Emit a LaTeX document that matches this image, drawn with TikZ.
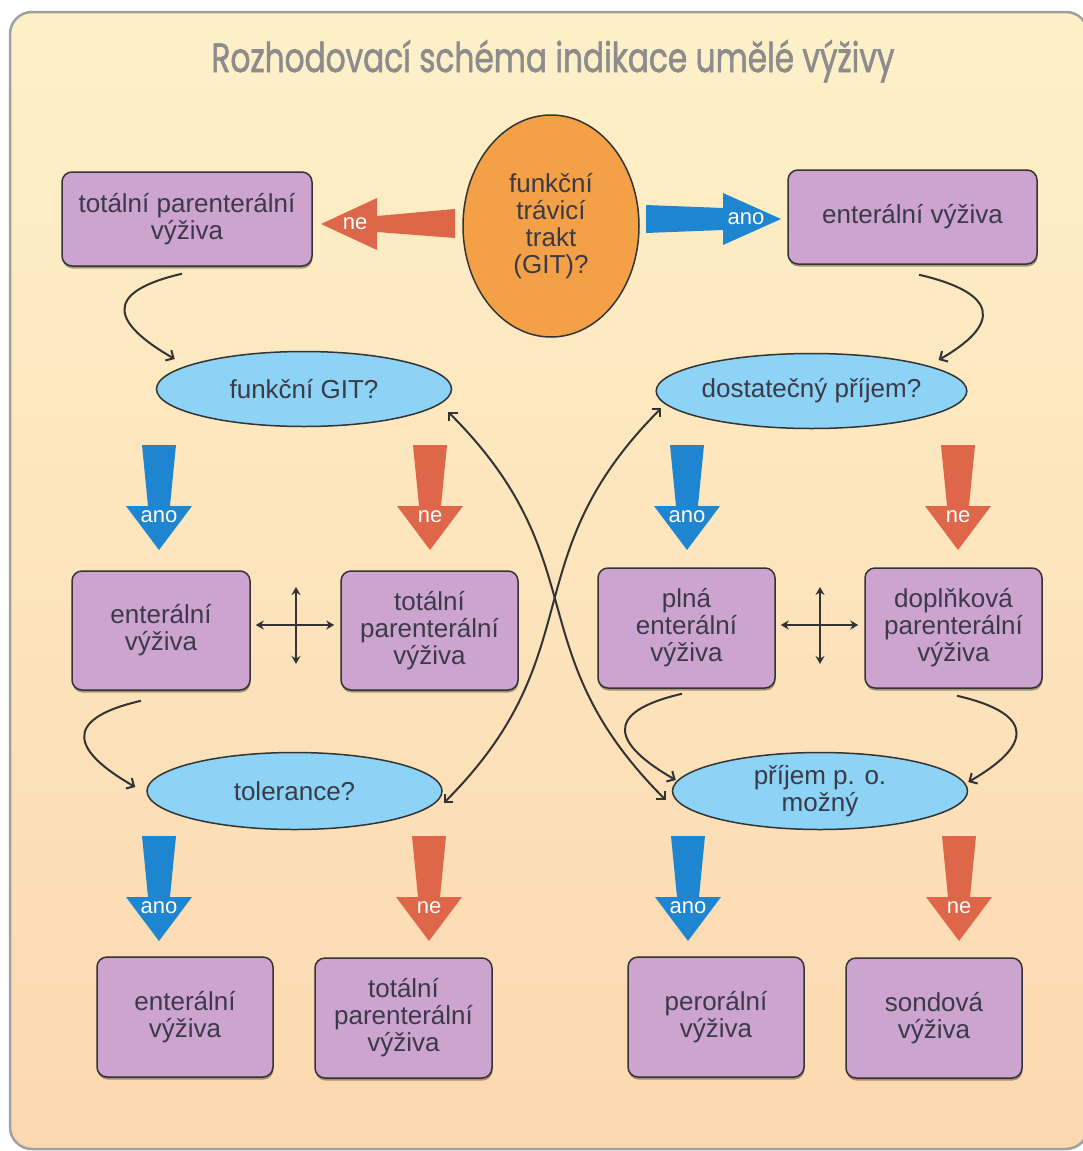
\documentclass[tikz,border=0pt]{standalone}
\usepackage{fontspec}
\setmainfont{Liberation Sans}
\newfontfamily\titlefont[FakeBold=1.6]{Poppins}
\usepackage{graphicx}
\usetikzlibrary{shapes.geometric,arrows.meta,shadows}
\definecolor{bgtop}{HTML}{FDF0C8}
\definecolor{bgbot}{HTML}{FCD8B0}
\definecolor{boxfill}{HTML}{CDA4CF}
\definecolor{qfill}{HTML}{8DD3F6}
\definecolor{orangefill}{HTML}{F3A046}
\definecolor{arrblue}{HTML}{1E86D0}
\definecolor{arrred}{HTML}{DE6649}
\definecolor{txt}{HTML}{3A3A48}
\definecolor{titlegray}{HTML}{8C8C8C}
\definecolor{edge}{HTML}{333333}
\definecolor{frame}{HTML}{A0A0A0}
\newcommand\bxfont{\fontsize{26}{27}\selectfont}
\newcommand\fatdown[5]{%
  \fill[#4] ({#2-17},{-#3}) -- ({#2+17},{-#3}) -- ({#2+11},{-(#3+61)}) -- ({#2+33},{-(#3+61)})
    -- ({#2},{-(#3+105)}) -- ({#2-33},{-(#3+61)}) -- ({#2-11},{-(#3+61)}) -- cycle;
  \node[lbl] (#1) at (#2,{-(#3+72)}) {#5};
}
\tikzset{
  box/.style={draw=edge, line width=1.5pt, fill=boxfill, rounded corners=10pt,
    align=center, text=txt, font=\bxfont, inner sep=0pt,
    drop shadow={shadow xshift=0.5pt, shadow yshift=-2.5pt, fill=black, opacity=0.35}},
  quest/.style={ellipse, draw=edge, line width=1.5pt, fill=qfill, minimum width=295pt,
    minimum height=75pt, inner sep=0pt, align=center, text=txt, font=\bxfont},
  lbl/.style={text=white, font=\fontsize{22}{22}\selectfont, inner sep=0pt},
  conn/.style={-{Straight Barb[length=6pt,width=12pt]}, line width=2pt, draw=edge},
  conn2/.style={{Straight Barb[length=6pt,width=12pt]}-{Straight Barb[length=6pt,width=12pt]}, line width=2pt, draw=edge},
  dbl/.style={{Stealth[length=8pt,width=9pt]}-{Stealth[length=8pt,width=9pt]}, line width=2pt, draw=edge},
}
\begin{document}
\begin{tikzpicture}[x=1pt,y=1pt]
\useasboundingbox (0,0) rectangle (1083,-1151);
\clip (0,0) rectangle (1083,-1151);
\draw[draw=frame, line width=2.5pt, rounded corners=22pt, top color=bgtop, bottom color=bgbot]
  (10,-12) rectangle (1088,-1149);

\node[anchor=base, text=titlegray, inner sep=0pt] (title) at (553,-72)
  {\resizebox{683pt}{\height}{\titlefont\fontsize{41}{41}\selectfont Rozhodovací schéma indikace umělé výživy}};

% top
\node[ellipse, draw=edge, line width=1.5pt, fill=orangefill, minimum width=176pt, minimum height=222pt,
  inner sep=0pt, align=center, text=txt, font=\bxfont] (git) at (551,-226) {funkční\\trávicí\\trakt\\(GIT)?};
\node[box, minimum width=250pt, minimum height=94pt] (tpv1) at (187,-219) {totální parenterální\\výživa};
\node[box, minimum width=249pt, minimum height=94pt] (ev1) at (912.5,-217) {enterální výživa};

\fill[arrred] (455,-209) -- (377,-216) -- (377,-198) -- (321,-224) -- (377,-250) -- (377,-232) -- (455,-238) -- cycle;
\node[lbl] (lne) at (355,-224) {ne};
\fill[arrblue] (646,-205) -- (723,-208) -- (723,-193) -- (781,-219) -- (723,-245) -- (723,-230) -- (646,-233) -- cycle;
\node[lbl] (lano) at (746,-219) {ano};

% questions
\node[quest] (q1) at (304,-389) {funkční GIT?};
\node[quest] (q2) at (811.5,-391) {dostatečný příjem?};
\node[quest, minimum height=77pt] (q3) at (294.5,-791) {tolerance?};
\node[quest, minimum height=77pt] (q4) at (820,-791) {příjem p. o.\\možný};

% middle boxes
\node[box, minimum width=178pt, minimum height=119pt] (ev2) at (161,-630.5) {enterální\\výživa};
\node[box, minimum width=177pt, minimum height=119pt] (tpv2) at (429.5,-630.5) {totální\\parenterální\\výživa};
\node[box, minimum width=177pt, minimum height=120pt] (pev) at (686.5,-628) {plná\\enterální\\výživa};
\node[box, minimum width=177pt, minimum height=120pt] (dpv) at (953.5,-628) {doplňková\\parenterální\\výživa};

% bottom boxes
\node[box, minimum width=176pt, minimum height=120pt] (ev3) at (185,-1017) {enterální\\výživa};
\node[box, minimum width=177pt, minimum height=120pt] (tpv3) at (403.5,-1018) {totální\\parenterální\\výživa};
\node[box, minimum width=176pt, minimum height=120pt] (po) at (716,-1017) {perorální\\výživa};
\node[box, minimum width=176pt, minimum height=120pt] (sv) at (934,-1018) {sondová\\výživa};

% fat down arrows
\fatdown{a1}{159}{445}{arrblue}{ano}
\fatdown{a2}{430}{445}{arrred}{ne}
\fatdown{a3}{687}{445}{arrblue}{ano}
\fatdown{a4}{958}{445}{arrred}{ne}
\fatdown{a5}{159}{836}{arrblue}{ano}
\fatdown{a6}{429}{836}{arrred}{ne}
\fatdown{a7}{688}{836}{arrblue}{ano}
\fatdown{a8}{959}{836}{arrred}{ne}

% cross arrows
\draw[dbl, shorten <=5pt, shorten >=6pt] ([yshift=5.5pt]ev2.east) -- ([yshift=5.5pt]tpv2.west);
\coordinate (v1t) at (296,-587);
\coordinate (v1b) at (296,-664);
\draw[dbl] (v1t) -- (v1b);
\draw[dbl, shorten <=5pt, shorten >=6pt] ([yshift=3pt]pev.east) -- ([yshift=3pt]dpv.west);
\coordinate (v2t) at (820,-587);
\coordinate (v2b) at (820,-664);
\draw[dbl] (v2t) -- (v2b);

% curved connectors
\draw[conn] ([shift={(-5pt,-7pt)}]tpv1.south) .. controls +(-82,-19) and +(-61,35) .. ([shift={(19pt,30pt)}]q1.west);
\draw[conn] ([shift={(6.5pt,-10pt)}]ev1.south) .. controls +(82,-19) and +(61,35) .. ([shift={(-29pt,31pt)}]q2.east);
\draw[conn] ([shift={(-20pt,-10pt)}]ev2.south) .. controls +(-82,-19) and +(-61,35) .. ([shift={(-11pt,4pt)}]q3.west);
\draw[conn] ([shift={(-4.5pt,-5pt)}]pev.south) .. controls +(-82,-19) and +(-61,35) .. ([shift={(4pt,11pt)}]q4.west);
\draw[conn] ([shift={(3.5pt,-7pt)}]dpv.south) .. controls +(82,-19) and +(61,35) .. ([shift={(0pt,9pt)}]q4.east);

\draw[conn2] ([shift={(-4pt,-23pt)}]q1.east) .. controls +(150,-150) and +(-150,150) .. ([shift={(-6pt,-9pt)}]q4.west);
\draw[conn2] ([shift={(6pt,-17pt)}]q2.west) .. controls +(-150,-150) and +(150,150) .. ([shift={(1pt,-12pt)}]q3.east);
\end{tikzpicture}
\end{document}
